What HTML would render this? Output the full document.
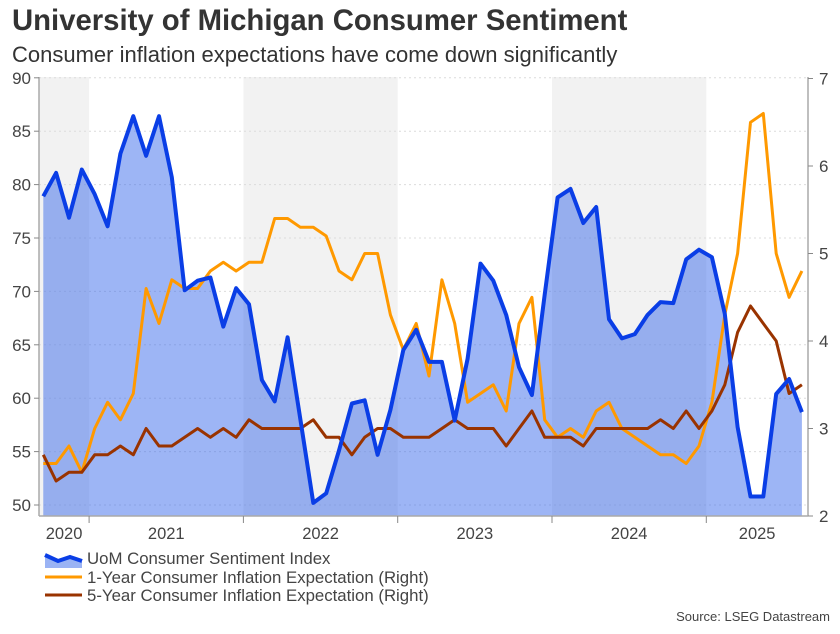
<!DOCTYPE html>
<html><head><meta charset="utf-8"><style>
body{margin:0;background:#fff;font-family:"Liberation Sans",Arial,sans-serif;}
svg text{font-family:"Liberation Sans",Arial,sans-serif;}
</style></head><body>
<svg id="chart" width="840" height="629" xmlns="http://www.w3.org/2000/svg">
<text x="12" y="30" font-size="29.3" font-weight="bold" fill="#333">University of Michigan Consumer Sentiment</text>
<text x="12" y="62" font-size="22" fill="#333">Consumer inflation expectations have come down significantly</text>
<g id="bands"></g>
<g id="grid"></g>
<g id="area"></g>
<g id="lines"></g>
<g id="axes"></g>
<g>
 <g>
  <path d="M45,555 L58,562 L70,558 L82,562 L82,568 L45,568 Z" fill="#9ab3f4"/>
  <polyline points="45,555 58,561 70,557 82,561" fill="none" stroke="#0a3ee6" stroke-width="4"/>
  <text x="87" y="564" font-size="16.8" fill="#444">UoM Consumer Sentiment Index</text>
 </g>
 <g>
  <line x1="45" y1="577" x2="82" y2="577" stroke="#ff9900" stroke-width="3"/>
  <text x="87" y="583" font-size="16.8" fill="#444">1-Year Consumer Inflation Expectation (Right)</text>
 </g>
 <g>
  <line x1="45" y1="595" x2="82" y2="595" stroke="#993300" stroke-width="3"/>
  <text x="87" y="601" font-size="16.8" fill="#444">5-Year Consumer Inflation Expectation (Right)</text>
 </g>
</g>
<text x="830" y="621" font-size="13" fill="#444" text-anchor="end">Source: LSEG Datastream</text>
</svg>
<script>
const years = ["2020","2021","2022","2023","2024","2025"];
const leftTicks = [50,55,60,65,70,75,80,85,90];
const rightTicks = [2,3,4,5,6,7];
const sentiment = [78.9,81.1,76.9,81.4,79.1,76.1,82.9,86.4,82.7,86.4,80.7,70.1,71.0,71.3,66.7,70.3,68.8,61.7,59.7,65.7,58.0,50.2,51.1,55.1,59.5,59.8,54.7,58.9,64.5,66.4,63.4,63.4,57.9,63.7,72.6,71.0,67.8,62.9,60.3,69.7,78.8,79.6,76.4,77.9,67.4,65.6,66.0,67.8,69.0,68.9,73.0,73.9,73.2,67.9,57.3,50.8,50.8,60.4,61.8,58.7];
const oneYear = [2.6,2.6,2.8,2.5,3.0,3.3,3.1,3.4,4.6,4.2,4.7,4.6,4.6,4.8,4.9,4.8,4.9,4.9,5.4,5.4,5.3,5.3,5.2,4.8,4.7,5.0,5.0,4.3,3.9,4.2,3.6,4.7,4.2,3.3,3.4,3.5,3.2,4.2,4.5,3.1,2.9,3.0,2.9,3.2,3.3,3.0,2.9,2.8,2.7,2.7,2.6,2.8,3.3,4.3,5.0,6.5,6.6,5.0,4.5,4.8];
const fiveYear = [2.7,2.4,2.5,2.5,2.7,2.7,2.8,2.7,3.0,2.8,2.8,2.9,3.0,2.9,3.0,2.9,3.1,3.0,3.0,3.0,3.0,3.1,2.9,2.9,2.7,2.9,3.0,3.0,2.9,2.9,2.9,3.0,3.1,3.0,3.0,3.0,2.8,3.0,3.2,2.9,2.9,2.9,2.8,3.0,3.0,3.0,3.0,3.0,3.1,3.0,3.2,3.0,3.2,3.5,4.1,4.4,4.2,4.0,3.4,3.5];
const firstMonth = 8; // Sep 2020

const NS="http://www.w3.org/2000/svg";
const PL=39, PR=808, PT=77, PB=516;
const yearStart=-65.2, yearW=154.3;
function xM(i){ return yearStart + (firstMonth+i)*yearW/12 + 5.6; }
function yL(v){ return 505 - (v-50)*10.68; }
function yR(v){ return 516 - (v-2)*87.5; }
function mk(tag, attrs, parent){ const e=document.createElementNS(NS,tag); for(const k in attrs) e.setAttribute(k,attrs[k]); parent.appendChild(e); return e; }

const bands=document.getElementById('bands');
years.forEach((yr,k)=>{
  const x0=Math.max(PL, yearStart+k*yearW), x1=Math.min(PR, yearStart+(k+1)*yearW);
  if(k%2===0){
    const r=mk('rect',{x:x0,y:PT,width:x1-x0,height:PB-PT,fill:'#f2f2f2'},bands);
    
    
  }
});
const grid=document.getElementById('grid');
leftTicks.forEach(v=>{
  const l=mk('line',{x1:PL,x2:PR,y1:yL(v),y2:yL(v),stroke:'#dcdcdc','stroke-dasharray':'2,3'},grid);
  
  
});
const area=document.getElementById('area');
let d='M'+xM(0)+','+PB;
sentiment.forEach((v,i)=>{ d+=' L'+xM(i).toFixed(1)+','+yL(v).toFixed(1); });
d+=' L'+xM(sentiment.length-1).toFixed(1)+','+PB+' Z';
const ap=mk('path',{d:d,fill:'rgb(50,100,235)','fill-opacity':'0.48'},area);



const lines=document.getElementById('lines');
function poly(arr, yf, color, w, name){
  const p=mk('polyline',{points:arr.map((v,i)=>xM(i).toFixed(1)+','+yf(v).toFixed(1)).join(' '),fill:'none',stroke:color,'stroke-width':w,'stroke-linejoin':'round'},lines);
  
  
}
poly(oneYear,yR,'#ff9900',3,'line-1yr-expectation');
poly(fiveYear,yR,'#993300',3,'line-5yr-expectation');
poly(sentiment,yL,'#0a3ee6',4,'line-sentiment');

const axes=document.getElementById('axes');
mk('line',{x1:PL,x2:PL,y1:PT,y2:PB,stroke:'#aaa','stroke-width':1.5},axes);
mk('line',{x1:PR,x2:PR,y1:PT,y2:PB,stroke:'#aaa','stroke-width':1.5},axes);
mk('line',{x1:PL,x2:PR,y1:PB,y2:PB,stroke:'#aaa','stroke-width':1.5},axes);
leftTicks.forEach(v=>{
  mk('line',{x1:PL-5,x2:PL,y1:yL(v),y2:yL(v),stroke:'#888'},axes);
  const t=mk('text',{x:PL-8,y:yL(v)+6,'font-size':17,fill:'#444','text-anchor':'end'},axes);
  t.textContent=v;
  
  
});
rightTicks.forEach(v=>{
  mk('line',{x1:PR,x2:PR+5,y1:yR(v),y2:yR(v),stroke:'#888'},axes);
  const t=mk('text',{x:PR+11,y:yR(v)+6,'font-size':17,fill:'#444'},axes);
  t.textContent=v;
  
  
});
years.forEach((yr,k)=>{
  const b=yearStart+k*yearW;
  if(k>0) mk('line',{x1:b,x2:b,y1:PB,y2:PB+7,stroke:'#888'},axes);
  const x0=Math.max(PL,b), x1=Math.min(PR,b+yearW);
  const t=mk('text',{x:(x0+x1)/2,y:539,'font-size':16.5,fill:'#444','text-anchor':'middle'},axes);
  t.textContent=yr;
  
  
});
</script>
</body></html>
